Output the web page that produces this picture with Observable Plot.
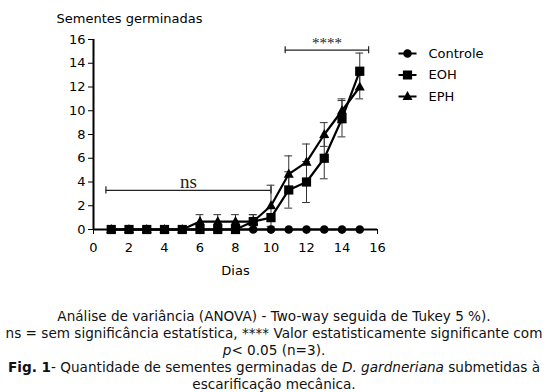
<!DOCTYPE html>
<html><head><meta charset="utf-8">
<script src="https://cdn.jsdelivr.net/npm/d3@7"></script>
<script src="https://cdn.jsdelivr.net/npm/@observablehq/plot@0.6"></script>
<style>
body{margin:0;background:#fff;font-family:"DejaVu Sans",Verdana,sans-serif;}
#chart svg{display:block;}
#cap{width:548px;text-align:center;font-size:13.6px;line-height:17px;padding-top:8px;color:#111;white-space:nowrap;}
</style></head><body>
<div id="chart"></div>
<div id="cap">Análise de variância (ANOVA) - Two-way seguida de Tukey 5 %).<br>ns = sem significância estatística, **** Valor estatisticamente significante com<br><i>p</i>&lt; 0.05 (n=3).<br><b>Fig. 1</b>- Quantidade de sementes germinadas de <i>D. gardneriana</i> submetidas à<br>escarificação mecânica.</div>
<script>
const days = [1,2,3,4,5,6,7,8,9,10,11,12,13,14,15];
const controle = [0,0,0,0,0,0,0,0,0,0,0,0,0,0,0];
const controleErr = [0,0,0,0,0,0,0,0,0,0,0,0,0,0,0];
const eoh = [0,0,0,0,0,0,0,0,0.67,1,3.33,4,6,9.33,13.33];
const eohErr = [0,0,0,0,0,0,0,0,0.58,0,1.53,1.73,1.73,1.53,1.53];
const eph = [0,0,0,0,0,0.67,0.67,0.67,0.67,2,4.67,5.67,8,10,12];
const ephErr = [0,0,0,0,0,0.58,0.58,0.58,0.58,1.73,1.53,1.53,1,1,1];
const seriesNames = ["Controle","EOH","EPH"];
const xTicks = [0,2,4,6,8,10,12,14,16];
const yTicks = [0,2,4,6,8,10,12,14,16];
const sigBrackets = [
  {x1:0.7, x2:10, y:3.3, label:"ns", ly:4.05},
  {x1:10.8, x2:15.5, y:15.1, label:"****", ly:15.7}
];

const vals = [controle, eoh, eph], errs = [controleErr, eohErr, ephErr];
const data = [];
seriesNames.forEach((s,i)=>days.forEach((d,j)=>data.push({series:s, day:d, value:vals[i][j], err:errs[i][j]})));
const errData = data.filter(d=>d.err>0);
const capHalf = 0.22, bracketHalf = 0.3;

function markerPath(ctx, kind){
  if(kind==="circle"){ctx.moveTo(4.3,0);ctx.arc(0,0,4.3,0,2*Math.PI);ctx.closePath();}
  else if(kind==="square"){ctx.rect(-4.6,-4.6,9.2,9.2);}
  else {ctx.moveTo(0,-5.6);ctx.lineTo(5,3.6);ctx.lineTo(-5,3.6);ctx.closePath();}
}
const kinds = {Controle:"circle", EOH:"square", EPH:"triangle"};
const sym = k=>({draw(ctx){markerPath(ctx,k);}});
const legSym = k=>({draw(ctx){ctx.rect(-9,-1.1,18,2.2);markerPath(ctx,k);}});

const marks = [
  Plot.axisX({ticks:xTicks, tickSize:5, tickPadding:8, label:null, fontSize:13}),
  Plot.axisY({ticks:yTicks, tickSize:5, tickPadding:3, label:null, fontSize:13}),
  Plot.ruleY([0], {stroke:"#000", strokeWidth:2}),
  Plot.ruleX([0], {y1:0, y2:16, stroke:"#000", strokeWidth:2}),
  Plot.text(["Sementes germinadas"], {frameAnchor:"top-left", dx:-37, dy:-21, lineAnchor:"middle", text:d=>d, textAnchor:"start", fontSize:13, fill:"#000"}),
  Plot.text(["Dias"], {frameAnchor:"bottom", dy:41, lineAnchor:"middle", text:d=>d, fontSize:13, fill:"#000"}),
  Plot.ruleX(errData, {x:"day", y1:d=>d.value-d.err, y2:d=>d.value+d.err, stroke:"#333", strokeWidth:1}),
  Plot.ruleY(errData, {y:d=>d.value+d.err, x1:d=>d.day-capHalf, x2:d=>d.day+capHalf, stroke:"#333", strokeWidth:1}),
  Plot.ruleY(errData, {y:d=>d.value-d.err, x1:d=>d.day-capHalf, x2:d=>d.day+capHalf, stroke:"#333", strokeWidth:1}),
  Plot.ruleY(sigBrackets, {x1:"x1", x2:"x2", y:"y", stroke:"#222", strokeWidth:1.2}),
  Plot.ruleX(sigBrackets, {x:"x1", y1:d=>d.y-bracketHalf, y2:d=>d.y+bracketHalf, stroke:"#222", strokeWidth:1.2}),
  Plot.ruleX(sigBrackets, {x:"x2", y1:d=>d.y-bracketHalf, y2:d=>d.y+bracketHalf, stroke:"#222", strokeWidth:1.2}),
  Plot.text(sigBrackets, {x:d=>(d.x1+d.x2)/2, y:"ly", text:"label", fontFamily:"Liberation Serif, Times New Roman, serif", fontSize:d=>d.label==="ns"?19:15, fill:"#222"})
];
seriesNames.forEach(s=>{
  const sd = data.filter(d=>d.series===s);
  marks.push(Plot.line(sd, {x:"day", y:"value", stroke:"#000", strokeWidth:2.2}));
  marks.push(Plot.dot(sd, {x:"day", y:"value", symbol:sym(kinds[s]), fill:"#000", stroke:"none", r:4.5}));
});
seriesNames.forEach((s,i)=>{
  const dy = 14 + i*21.5;
  marks.push(Plot.dot([s], {frameAnchor:"top-right", dx:30, dy:dy, symbol:legSym(kinds[s]), fill:"#000", stroke:"none", r:4.5}));
  marks.push(Plot.text([s], {frameAnchor:"top-right", dx:51, dy:dy, lineAnchor:"middle", text:d=>d, textAnchor:"start", fontSize:13, fill:"#000"}));
});

const chart = Plot.plot({
  width:548, height:300,
  marginLeft:93, marginRight:171, marginTop:39, marginBottom:71,
  style:{fontFamily:"DejaVu Sans, Verdana, sans-serif", fontSize:"13px", color:"#000", background:"#fff", overflow:"visible"},
  x:{type:"linear", domain:[0,16]},
  y:{type:"linear", domain:[0,16]},
  marks
});
document.getElementById("chart").appendChild(chart);
</script></body></html>
